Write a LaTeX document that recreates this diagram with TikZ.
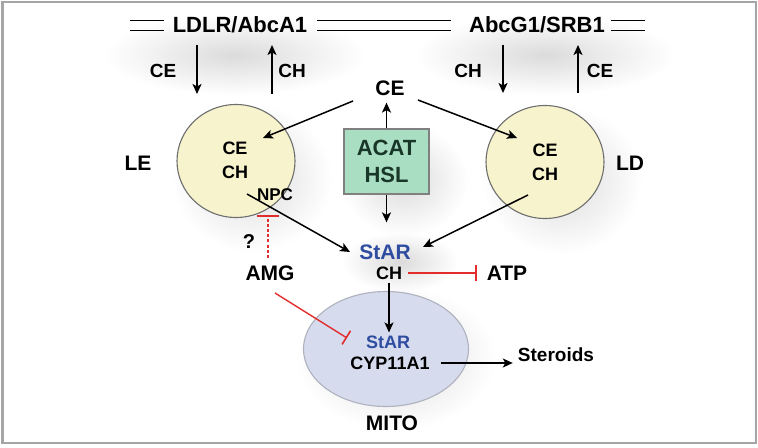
\documentclass[tikz,border=0pt]{standalone}
\usepackage{fontspec}
\setmainfont{Liberation Sans}
\usetikzlibrary{arrows.meta,fadings,shapes.geometric}

\definecolor{starblue}{RGB}{46,76,160}
\definecolor{inhred}{RGB}{225,45,45}
\definecolor{lefill}{RGB}{247,243,205}
\definecolor{mitofill}{RGB}{214,220,238}
\definecolor{boxfill}{RGB}{170,222,195}
\definecolor{boxtext}{RGB}{25,55,40}
\definecolor{framegray}{RGB}{165,165,165}
\definecolor{circgray}{RGB}{110,110,110}
\definecolor{mitogray}{RGB}{175,178,190}

\tikzfading[name=softblob, inner color=transparent!0, outer color=transparent!100]

\newcommand{\myfs}[1]{\fontsize{#1bp}{#1bp}\selectfont\bfseries}

\begin{document}
\begin{tikzpicture}[x=1bp,y=-1bp,
  txt/.style={inner sep=0pt, font=\myfs{19}},
  big/.style={inner sep=0pt, font=\myfs{21}},
  sml/.style={inner sep=0pt, font=\myfs{18}},
  arr/.style={-{Stealth[length=10bp,width=9bp,inset=2.5bp]}, line width=1.5bp},
  inh/.style={draw=inhred, line width=1.4bp, -{Bar[width=16bp,line width=1.6bp]}},
  dl/.style={line width=1.3bp},
  blob/.style={fill=black, fill opacity=0.14, path fading=softblob},
  vesicle/.style={ellipse, draw=circgray, fill=lefill, line width=1.1bp,
                  minimum width=118bp, minimum height=113bp, inner sep=0pt}]

\useasboundingbox (0,0) rectangle (758,448);

% soft shadows
\fill[blob] (235,55) ellipse (130 and 40);
\fill[blob] (545,55) ellipse (130 and 40);
\fill[blob] (252,178) ellipse (80 and 74);
\fill[blob] (562,180) ellipse (80 and 74);
\fill[blob] (404,180) ellipse (64 and 56);
\fill[blob] (400,262) ellipse (58 and 30);
\fill[blob] (396,358) ellipse (100 and 72);

% frame
\draw[framegray, line width=2bp] (2.5,2.5) rectangle (755.5,443);

% top membrane labels
\node[inner sep=0pt, font=\myfs{22}] (ldlr) at (240,24.5) {LDLR/AbcA1};
\node[inner sep=0pt, font=\myfs{22}] (abcg) at (537,24.5) {AbcG1/SRB1};
\coordinate (m1a) at (130,20.5); \coordinate (m1b) at (164,20.5);
\coordinate (m1c) at (130,30.5); \coordinate (m1d) at (164,30.5);
\coordinate (m2a) at (317,20.5); \coordinate (m2b) at (451,20.5);
\coordinate (m2c) at (317,30.5); \coordinate (m2d) at (451,30.5);
\coordinate (m3a) at (611,20.5); \coordinate (m3b) at (645,20.5);
\coordinate (m3c) at (611,30.5); \coordinate (m3d) at (645,30.5);
\draw[dl] (m1a) -- (m1b) (m1c) -- (m1d);
\draw[dl] (m2a) -- (m2b) (m2c) -- (m2d);
\draw[dl] (m3a) -- (m3b) (m3c) -- (m3d);

% side transport arrows
\node[txt] (ce1) at (163,71) {CE};
\node[txt] (ch1) at (292,71) {CH};
\node[txt] (ch2) at (468,71) {CH};
\node[txt] (ce2) at (600,71) {CE};
\coordinate (t1) at (197,45); \coordinate (b1) at (197,94);
\coordinate (t2) at (272,45); \coordinate (b2) at (272,94);
\coordinate (t3) at (503,45); \coordinate (b3) at (503,93);
\coordinate (t4) at (578,45); \coordinate (b4) at (578,93);
\draw[arr] (t1) -- (b1);
\draw[arr] (b2) -- (t2);
\draw[arr] (t3) -- (b3);
\draw[arr] (b4) -- (t4);

% central CE and ACAT/HSL
\node[big] (ce) at (390,88) {CE};
\node[draw=gray, line width=1.2bp, fill=boxfill, minimum width=85bp, minimum height=65bp,
      align=center, inner sep=0pt, text=boxtext,
      font={\fontsize{22bp}{27bp}\selectfont\bfseries}] (acat) at (386.5,161.5) {ACAT\\HSL};

% vesicles
\node[vesicle] (le) at (236,161) {};
\node[vesicle] (ld) at (545,162) {};
\node[sml, align=center, font={\fontsize{18bp}{24bp}\selectfont\bfseries}] (lein) at (235,160) {CE\\CH};
\node[sml, align=center, font={\fontsize{18bp}{24bp}\selectfont\bfseries}] (ldin) at (545,162) {CE\\CH};
\node[inner sep=0pt, font=\myfs{17}] (npc) at (275,195) {NPC};
\node[big] (letxt) at (138,163) {LE};
\node[big] (ldtxt) at (630,163) {LD};

% StAR / CH
\node[big, text=starblue] (star) at (385,252) {StAR};
\node[sml] (chs) at (389,273) {CH};
\node[big] (atp) at (507,273) {ATP};
\node[big] (amg) at (270,273) {AMG};
\node[inner sep=0pt, font=\myfs{20}] (q) at (249,242) {?};

% mitochondrion
\node[ellipse, draw=mitogray, fill=mitofill, line width=1.1bp, minimum width=165bp,
      minimum height=115bp, inner sep=0pt] (mito) at (386,349) {};
\node[sml, text=starblue] (stm) at (388,342) {StAR};
\node[sml] (cyp) at (390,363) {CYP11A1};
\node[inner sep=0pt, font=\myfs{19}] (ster) at (556,355) {Steroids};
\node[big] (mitotxt) at (392,423) {MITO};

% arrows from CE
\coordinate (cel) at (353,101); \coordinate (cer) at (418,100);
\coordinate (lein2) at (263,138); \coordinate (ldin2) at (517,138);
\draw[arr] (cel) -- (lein2);
\draw[arr] (cer) -- (ldin2);
\draw[arr, shorten >=7bp] (acat.north) -- (acat.north |- ce.south);
\draw[arr, shorten >=22bp] (acat.south) -- (acat.south |- star.north);

% to StAR
\coordinate (leout) at (247,194); \coordinate (starw) at (350,252);
\coordinate (ldout) at (528,195); \coordinate (stare) at (423,247);
\draw[arr] (leout) -- (starw);
\draw[arr] (ldout) -- (stare);

% CH to mito, mito to steroids
\draw[arr, shorten <=3bp, shorten >=3bp] (chs.south) -- (chs.south |- stm.north);
\draw[arr, shorten <=11bp, shorten >=5bp] (cyp.east) -- (cyp.east -| ster.west);

% inhibitions
\draw[inh, shorten <=6bp, shorten >=10bp] (chs.east) -- (atp.west);
\coordinate (amgq) at (268,258); \coordinate (npcbar) at (268,216.5);
\draw[draw=inhred, line width=1.3bp, dash pattern=on 3bp off 2.2bp] (amgq) -- (npcbar);
\draw[draw=inhred, line width=2bp] ([xshift=-11bp]npcbar) -- ([xshift=11bp]npcbar);
\coordinate (amgo) at (275,293); \coordinate (mitoin) at (347,338);
\draw[inh] (amgo) -- (mitoin);

\end{tikzpicture}
\end{document}
